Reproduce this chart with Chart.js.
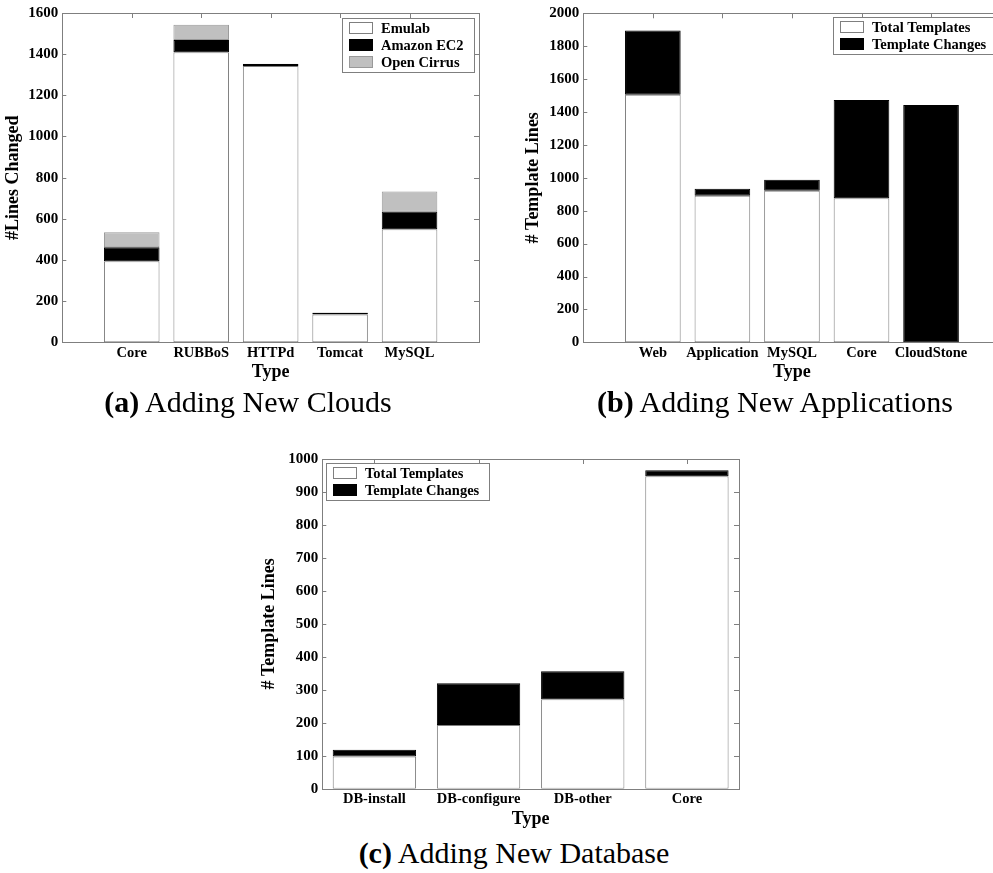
<!DOCTYPE html>
<html><head><meta charset="utf-8">
<script src="https://cdn.jsdelivr.net/npm/chart.js@4.4.1/dist/chart.umd.min.js"></script>
<style>
html,body{margin:0;padding:0;background:#fff;overflow:hidden;width:993px;height:873px;position:relative;}
canvas{position:absolute;}
.cap{position:absolute;font-family:"Liberation Serif","Times New Roman",serif;font-size:30px;line-height:1;white-space:nowrap;color:#000;width:500px;text-align:center;}
</style></head><body>
<canvas id="ca" width="493" height="392" style="left:0;top:0"></canvas>
<canvas id="cb" width="490" height="392" style="left:520px;top:0"></canvas>
<canvas id="cc" width="500" height="392" style="left:256px;top:440px"></canvas>
<div class="cap" style="left:-2px;top:387px"><b>(a)</b> Adding New Clouds</div>
<div class="cap" style="left:525px;top:387px"><b>(b)</b> Adding New Applications</div>
<div class="cap" style="left:264px;top:838px"><b>(c)</b> Adding New Database</div>
<script>
// ---- data ----
const typesA = ['Core', 'RUBBoS', 'HTTPd', 'Tomcat', 'MySQL'];
const emulabA = [394, 1409, 1343, 135, 549];
const ec2A = [68, 60, 9, 7, 86];
const cirrusA = [73, 74, 2, 3, 98];

const typesB = ['Web', 'Application', 'MySQL', 'Core', 'CloudStone'];
const totalB = [1505, 891, 922, 875, 0];
const changesB = [390, 43, 66, 598, 1443];

const typesC = ['DB-install', 'DB-configure', 'DB-other', 'Core'];
const totalC = [98, 193, 271, 948];
const changesC = [20, 127, 85, 18];

const FONT = '"Liberation Serif", "Times New Roman", serif';
Chart.defaults.font.family = FONT;
Chart.defaults.color = '#000';

const GRAYLINE = '#7f7f7f';
const padEnds = a => [null, ...a, null];
const padLabels = a => ['', ...a, ''];

const frame = {
  id: 'frame',
  beforeDatasetsDraw(chart) {
    const {ctx, chartArea: ca, scales: {x, y}} = chart;
    ctx.save();
    ctx.strokeStyle = GRAYLINE; ctx.lineWidth = 1;
    ctx.beginPath();
    y.ticks.forEach(t => {
      const py = Math.round(y.getPixelForValue(t.value)) + 0.5;
      ctx.moveTo(ca.left, py); ctx.lineTo(ca.left + 4, py);
      ctx.moveTo(ca.right, py); ctx.lineTo(ca.right - 5, py);
    });
    x.ticks.forEach((t, i) => {
      if (!x.getLabelForValue(t.value)) return;
      const px = Math.round(x.getPixelForTick(i)) + 0.5;
      ctx.moveTo(px, ca.top); ctx.lineTo(px, ca.top + 5);
    });
    ctx.stroke();
    ctx.strokeRect(Math.round(ca.left) + 0.5, Math.round(ca.top) + 0.5,
      Math.round(ca.right - ca.left), Math.round(ca.bottom - ca.top));
    ctx.restore();
  }
};

const boxLegend = {
  id: 'boxLegend',
  afterDraw(chart, args, o) {
    const ctx = chart.ctx, ca = chart.chartArea;
    ctx.save();
    ctx.font = 'bold 14.5px ' + FONT;
    const items = chart.data.datasets.map(d => ({label: d.label, fill: d.backgroundColor, stroke: d.legendStroke}));
    const tw = Math.max(...items.map(i => ctx.measureText(i.label).width));
    const w = Math.round(o.padL + o.sw + o.gap + tw + o.padR);
    const h = Math.round(o.rowH * (items.length - 1) + o.padV * 2);
    const x = Math.round(o.corner === 'tr' ? ca.right - o.mx - w : ca.left + o.mx);
    const y = Math.round(ca.top + o.my);
    ctx.fillStyle = '#fff'; ctx.fillRect(x, y, w, h);
    ctx.strokeStyle = GRAYLINE; ctx.lineWidth = 1; ctx.strokeRect(x + 0.5, y + 0.5, w, h);
    items.forEach((it, i) => {
      const cy = Math.round(y + o.padV + i * o.rowH);
      ctx.fillStyle = it.fill; ctx.fillRect(x + o.padL, cy - o.sh / 2, o.sw, o.sh);
      ctx.strokeStyle = it.stroke; ctx.strokeRect(x + o.padL + 0.5, cy - o.sh / 2 + 0.5, o.sw - 1, o.sh - 1);
      ctx.fillStyle = '#000'; ctx.textBaseline = 'middle'; ctx.textAlign = 'left';
      ctx.fillText(it.label, x + o.padL + o.sw + o.gap, cy + 1);
    });
    ctx.restore();
  }
};

function ds(label, data, fill, border) {
  return {label, data, backgroundColor: fill, borderColor: border, legendStroke: border,
    borderWidth: 1, borderSkipped: false, stack: 's'};
}

function makeChart(id, labels, datasets, g) {
  return new Chart(document.getElementById(id), {
    type: 'bar',
    data: {labels, datasets},
    plugins: [frame, boxLegend],
    options: {
      responsive: false, animation: false,
      layout: {padding: {left: 0, top: g.top, right: g.right, bottom: 0}},
      datasets: {bar: {categoryPercentage: g.catPct, barPercentage: 0.8}},
      plugins: {legend: {display: false}, tooltip: {enabled: false}, boxLegend: g.legend},
      scales: {
        x: {
          stacked: true, offset: g.offset,
          grid: {display: false, drawTicks: false}, border: {display: false},
          ticks: {autoSkip: false, maxRotation: 0, minRotation: 0, padding: 2,
            font: {size: 14.5, weight: 'bold'}, color: '#000'},
          title: {display: true, text: 'Type', font: {size: 18, weight: 'bold'}, color: '#000',
            padding: {top: 0, bottom: g.xTitlePad}},
          afterFit: s => { s.height = g.xH; }
        },
        y: {
          stacked: true, min: 0, max: g.yMax,
          grid: {display: false, drawTicks: false}, border: {display: false},
          ticks: {stepSize: g.yStep, padding: 4, font: {size: 15, weight: 'bold'}, color: '#000',
            callback: v => String(v)},
          title: {display: true, text: g.yTitle, font: {size: 18, weight: 'bold'}, color: '#000',
            padding: {top: 2.4, bottom: 0}},
          afterFit: s => { s.width = g.yW; }
        }
      }
    }
  });
}

const legA = {corner: 'tr', mx: 5, my: 5, padL: 7, sw: 24, sh: 12, gap: 8, padR: 10, rowH: 17, padV: 10};
const legB = {corner: 'tr', mx: 5, my: 4, padL: 7, sw: 24, sh: 12, gap: 8, padR: 10, rowH: 17, padV: 10};
const legC = {corner: 'tl', mx: 4, my: 4, padL: 7, sw: 24, sh: 12, gap: 8, padR: 10, rowH: 17, padV: 10};

makeChart('ca', padLabels(typesA), [
  ds('Emulab', padEnds(emulabA), '#ffffff', GRAYLINE),
  ds('Amazon EC2', padEnds(ec2A), '#000000', '#000000'),
  ds('Open Cirrus', padEnds(cirrusA), '#c0c0c0', '#999999')
], {top: 12.3, right: 14, yW: 62.3, xH: 49.7, xTitlePad: 8.7, offset: false, catPct: 1,
    yMax: 1600, yStep: 200, yTitle: '#Lines Changed', legend: legA});

makeChart('cb', padLabels(typesB), [
  ds('Total Templates', padEnds(totalB), '#ffffff', GRAYLINE),
  ds('Template Changes', padEnds(changesB), '#000000', '#000000')
], {top: 13.3, right: 9.4, yW: 63.3, xH: 49.7, xTitlePad: 8.7, offset: false, catPct: 1,
    yMax: 2000, yStep: 200, yTitle: '# Template Lines', legend: legB});

makeChart('cc', typesC, [
  ds('Total Templates', totalC, '#ffffff', GRAYLINE),
  ds('Template Changes', changesC, '#000000', '#000000')
], {top: 19, right: 17, yW: 66.3, xH: 43.3, xTitlePad: 1.9, offset: true, catPct: 1,
    yMax: 1000, yStep: 100, yTitle: '# Template Lines', legend: legC});
</script>
</body></html>
